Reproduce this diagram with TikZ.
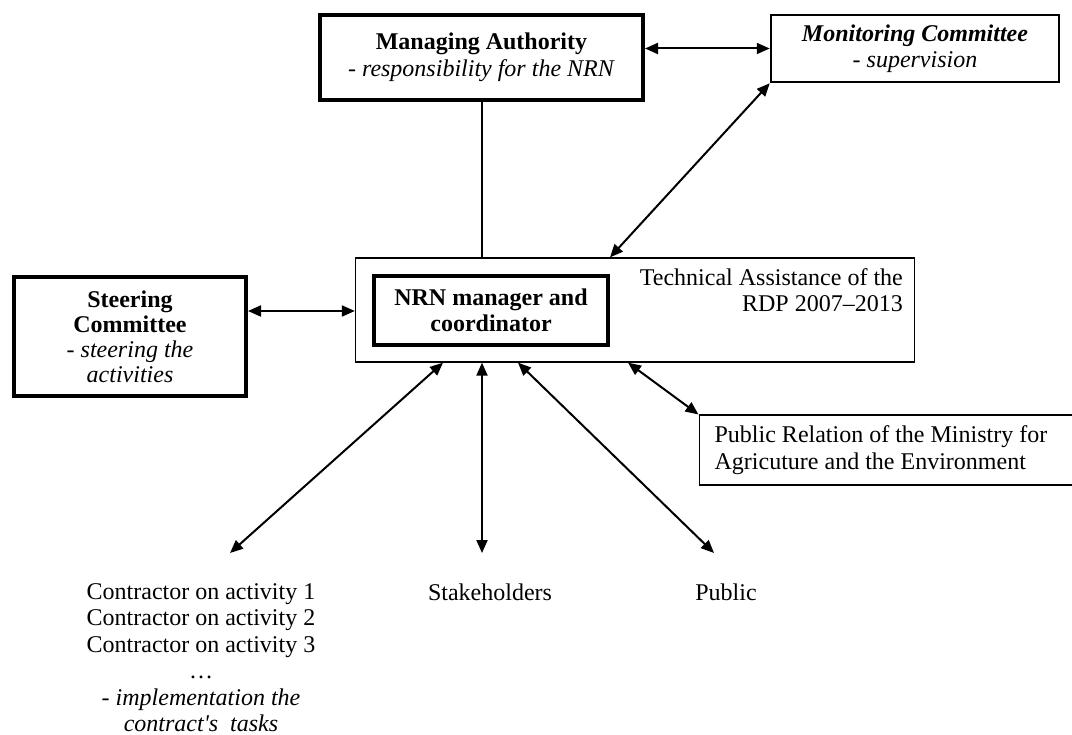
\documentclass[tikz,border=0pt]{standalone}
\usepackage{fontspec}
\setmainfont{Liberation Serif}
\usetikzlibrary{arrows.meta,calc,positioning}

\tikzset{
  heavybox/.style={draw, line width=4pt, align=center, inner sep=0pt},
  midbox/.style={draw, line width=2.5pt, align=center, inner sep=0pt},
  lightbox/.style={draw, line width=1.3pt, inner sep=0pt},
  link/.style={line width=2pt, {Triangle[length=13pt,width=11pt]}-{Triangle[length=13pt,width=11pt]}},
  plainlink/.style={line width=2pt},
  lbl/.style={align=center, inner sep=0pt}
}

\begin{document}
\begin{tikzpicture}[x=1pt,y=-1pt,font=\fontsize{24}{26.5}\selectfont]
\useasboundingbox (0,0) rectangle (1072,735);

\node[heavybox, minimum width=323pt, minimum height=85pt] (ma) at (481.5,57.5)
  {\textbf{Managing Authority}\\ \textit{- responsibility for the NRN}};
\node[midbox, minimum width=288pt, minimum height=67pt] (mc) at (915,48.5)
  {\textbf{\textit{Monitoring Committee}}\\ \textit{- supervision}};
\node[heavybox, minimum width=232pt, minimum height=119pt, font=\fontsize{24}{25}\selectfont] (sc) at (130,336.5)
  {\textbf{Steering}\\ \textbf{Committee}\\ \textit{- steering the}\\ \textit{activities}};
\node[lightbox, minimum width=559pt, minimum height=104pt] (ta) at (635,310) {};
\node[heavybox, minimum width=234pt, minimum height=69pt] (nrn) at (491,310.5)
  {\textbf{NRN manager and}\\ \textbf{coordinator}};
\node[lbl, align=right, anchor=north east] (tatext) at (903,268)
  {Technical Assistance of the\\ RDP 2007--2013};
\node[lightbox, anchor=north west, text width=345pt, inner xsep=15.5pt, minimum height=70pt, align=flush left] (pr) at (698.5,414.5)
  {Public Relation of the Ministry for\\ Agricuture and the Environment};

\node[lbl, anchor=north] (ctrtext) at (201,583)
  {Contractor on activity 1\\ Contractor on activity 2\\ Contractor on activity 3\\ …\\
   \textit{- implementation the}\\ \textit{contract\textquotesingle s\ \ tasks}};
\node[lbl, anchor=base] (stktext) at (490,600) {Stakeholders};
\node[lbl, anchor=base] (pubtext) at (726,600) {Public};

\coordinate (scy) at (0,311);
\coordinate (ctr) at (230,553);
\coordinate (stk) at (482,553);
\coordinate (pub) at (714,553);

\draw[link] (ma.east |- mc.west) -- (mc.west);
\draw[plainlink] (ma.south) -- (ma.south |- ta.north);
\draw[link] (mc.south west) -- (nrn.east |- ta.north);
\draw[link] (sc.east |- scy) -- (ta.west |- scy);
\draw[link] (443,0 |- ta.south) -- (ctr);
\draw[link] (482,0 |- ta.south) -- (stk);
\draw[link] (518,0 |- ta.south) -- (pub);
\draw[link] (628,0 |- ta.south) -- (pr.north west);
\end{tikzpicture}
\end{document}
